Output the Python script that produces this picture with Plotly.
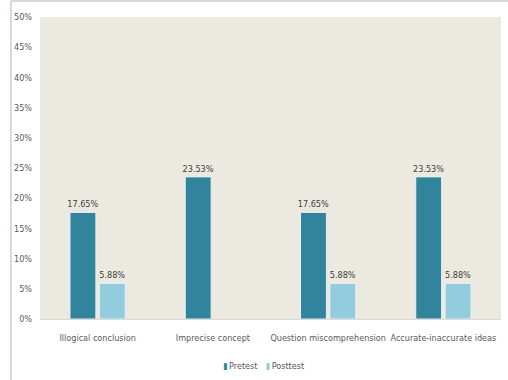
import plotly.graph_objects as go

categories = ["Illogical conclusion", "Imprecise concept", "Question miscomprehension", "Accurate-inaccurate ideas"]
pretest = [17.65, 23.53, 17.65, 23.53]
posttest = [5.88, None, 5.88, 5.88]
tick_vals = [0, 5, 10, 15, 20, 25, 30, 35, 40, 45, 50]
tick_text = [f"{v}%" for v in tick_vals]
series_names = ["Pretest", "Posttest"]
series_colors = ["#31849B", "#93CDDD"]

FONT = "DejaVu Sans Condensed, Liberation Sans Narrow, sans-serif"

fig = go.Figure()
for name, vals, color in zip(series_names, [pretest, posttest], series_colors):
    fig.add_trace(go.Bar(
        name=name, x=categories, y=vals,
        marker=dict(color=color, line=dict(color="#E6F0F2", width=1)),
        text=[f"{v:.2f}%" if v is not None else "" for v in vals],
        textposition="outside", constraintext="none",
        textfont=dict(size=9, color="#404040", family=FONT), cliponaxis=False,
    ))

legend_text = "\u2002\u2002".join(
    f'<span style="color:{c}">▮</span>\u2009{n}' for n, c in zip(series_names, series_colors)
)

fig.update_layout(
    width=508, height=380,
    margin=dict(l=40, r=7, t=17, b=61, autoexpand=False),
    paper_bgcolor="white", plot_bgcolor="#ECEAE0",
    barmode="group", bargap=0.49, bargroupgap=0.12,
    font=dict(family=FONT, size=9, color="#595959"),
    showlegend=False,
    xaxis=dict(showline=True, linecolor="#D9D9D9", linewidth=1, ticks="", tickangle=0,
               automargin=False, tickfont=dict(size=9), ticklabelstandoff=10),
    yaxis=dict(range=[0, 50], tickvals=tick_vals, ticktext=tick_text, showgrid=False,
               zeroline=False, showline=False, ticks="", ticklabelstandoff=7,
               automargin=False, tickfont=dict(size=9)),
    annotations=[
        dict(text=legend_text, xref="paper", yref="paper", x=0.484, y=-0.155,
             xanchor="center", yanchor="middle", showarrow=False,
             font=dict(size=9, color="#595959", family=FONT)),
    ],
    shapes=[
        dict(type="line", xref="paper", yref="paper", x0=-0.063, x1=1.2, y0=1.053, y1=1.053,
             line=dict(color="#D9D9D9", width=2)),
        dict(type="line", xref="paper", yref="paper", x0=-0.063, x1=-0.063, y0=1.053, y1=-0.3,
             line=dict(color="#D9D9D9", width=2)),
    ],
)
fig.write_html("out.html")
